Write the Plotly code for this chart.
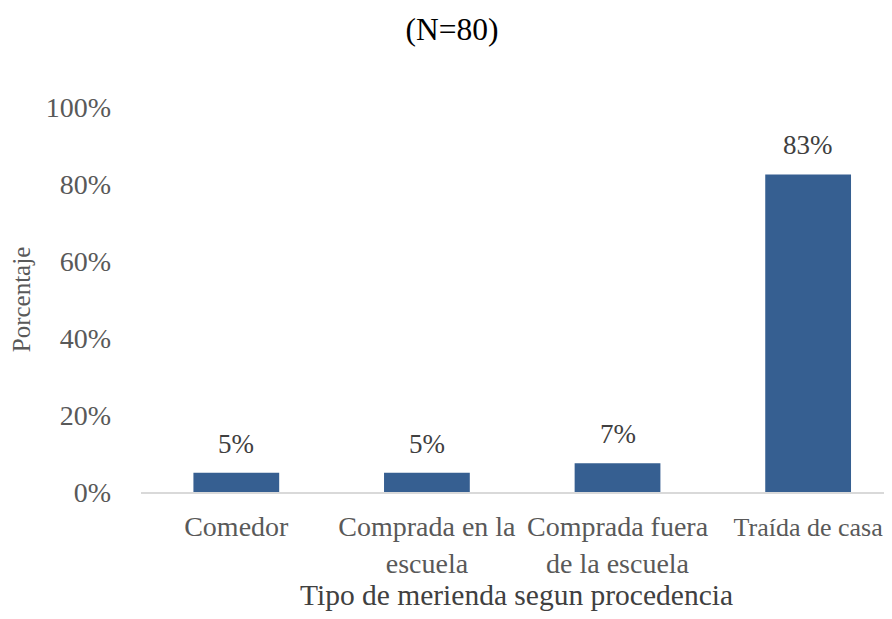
import plotly.graph_objects as go

categories = ["Comedor", "Comprada en la<br>escuela", "Comprada fuera<br>de la escuela", "Traída de casa"]
values = [5, 5, 7.5, 82.5]
labels = ["5%", "5%", "7%", "83%"]
y_ticks = [0, 20, 40, 60, 80, 100]
y_tick_text = ["0%", "20%", "40%", "60%", "80%", "100%"]

FONT = "Liberation Serif, Times New Roman, serif"

x_pos = list(range(len(categories)))

# the last category label sits at the right edge of the page, so it is set a little smaller
tick_text = list(categories)
tick_text[-1] = "<span style='font-size:26px'>" + categories[-1] + "</span>"

fig = go.Figure(go.Bar(
    x=x_pos,
    y=values,
    marker=dict(color="#365F91", line=dict(width=0)),
    width=0.45,
    hoverinfo="skip",
))

for xi, v, lab in zip(x_pos, values, labels):
    fig.add_annotation(
        x=xi, y=v, xref="x", yref="y", text=lab, showarrow=False,
        yanchor="bottom", yshift=12,
        font=dict(family=FONT, size=27, color="#404040"),
    )

# the page body adds an 8px margin on every side, so the figure is made smaller
fig.update_layout(
    width=884, height=603,
    paper_bgcolor="white", plot_bgcolor="white",
    margin=dict(l=133, r=0, t=99, b=119, autoexpand=False),
    showlegend=False,
    title=dict(text="(N=80)", x=0.5023, xanchor="center", y=0.965, yanchor="middle",
               font=dict(family=FONT, size=31.5, color="black")),
    xaxis=dict(
        range=[-0.5, 3.44], automargin=False,
        tickmode="array", tickvals=x_pos, ticktext=tick_text,
        tickfont=dict(family=FONT, size=28, color="#595959"),
        showline=True, linecolor="#D9D9D9", linewidth=1.5,
        showgrid=False, ticks="", zeroline=False,
        ticklabelstandoff=9,
        title=dict(text="Tipo de merienda segun procedencia", standoff=1,
                   font=dict(family=FONT, size=29.5, color="#404040")),
    ),
    yaxis=dict(
        range=[0, 100], automargin=False,
        tickmode="array", tickvals=y_ticks, ticktext=y_tick_text,
        tickfont=dict(family=FONT, size=28, color="#595959"),
        showgrid=False, showline=False, zeroline=False, ticks="",
        ticklabelstandoff=29,
        title=dict(text="Porcentaje", standoff=8,
                   font=dict(family=FONT, size=25, color="#595959")),
    ),
)

fig.write_html("out.html")
